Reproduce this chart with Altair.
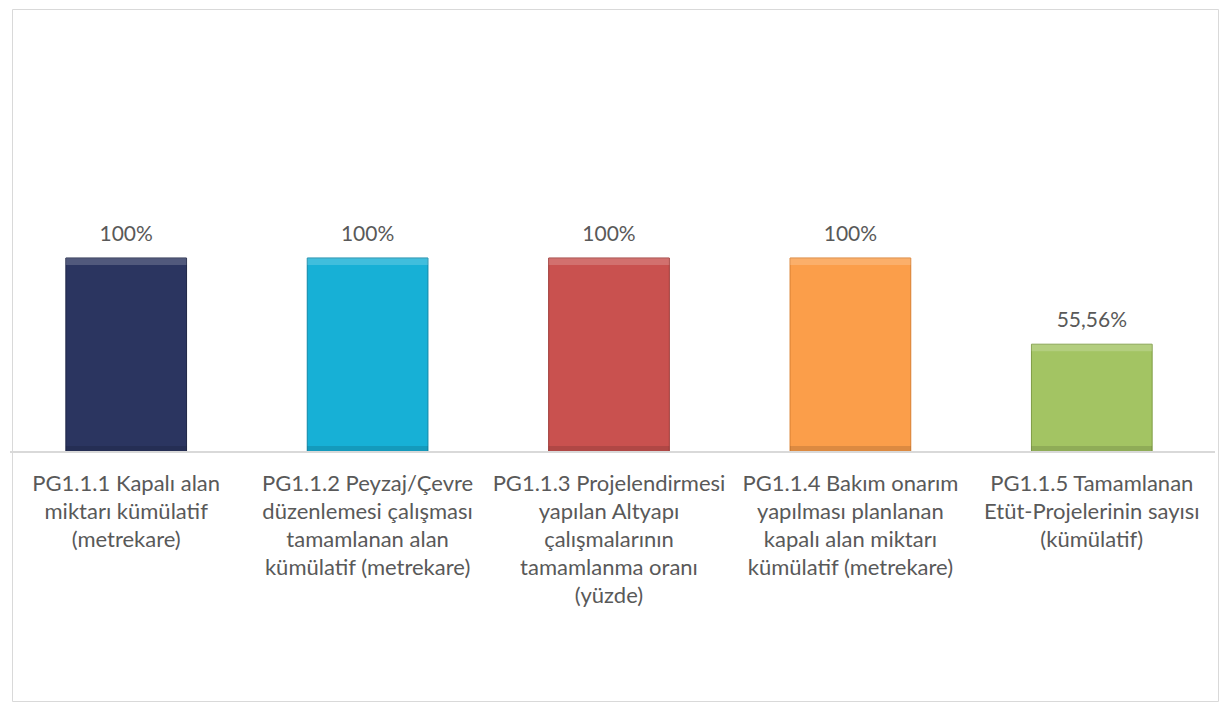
import altair as alt
import pandas as pd

categories = ["PG1.1.1", "PG1.1.2", "PG1.1.3", "PG1.1.4", "PG1.1.5"]
values = [1.0, 1.0, 1.0, 1.0, 0.5556]
value_labels = ["100%", "100%", "100%", "100%", "55,56%"]
bar_colors = ["#2B3560", "#17B0D6", "#C9514F", "#FB9E4A", "#A3C463"]
bar_edges = ["#1E2646", "#0F86A6", "#9E3B39", "#D97E2E", "#7F9C45"]
label_lines = [
    ["PG1.1.1 Kapalı alan", "miktarı kümülatif", "(metrekare)"],
    ["PG1.1.2 Peyzaj/Çevre", "düzenlemesi çalışması", "tamamlanan alan", "kümülatif (metrekare)"],
    ["PG1.1.3 Projelendirmesi", "yapılan Altyapı", "çalışmalarının", "tamamlanma oranı", "(yüzde)"],
    ["PG1.1.4 Bakım onarım", "yapılması planlanan", "kapalı alan miktarı", "kümülatif (metrekare)"],
    ["PG1.1.5 Tamamlanan", "Etüt-Projelerinin sayısı", "(kümülatif)"],
]

df = pd.DataFrame({
    "cat": categories,
    "value": values,
    "vlabel": value_labels,
    "color": bar_colors,
    "edge": bar_edges,
    "label": ["\n".join(l) for l in label_lines],
})

FONT = "Lato"
TEXT = "#595959"
PX = 1.0 / 194  # one pixel in data units

x = alt.X("cat:N", sort=categories, axis=None,
          scale=alt.Scale(range=[-6.5, 1200.5], paddingInner=0.5, paddingOuter=0.25))
yscale = alt.Scale(domain=[0, 1], range=[443, 249])

base = alt.Chart(df)

bars = base.mark_bar(strokeWidth=1).encode(
    x=x,
    y=alt.Y("value:Q", scale=yscale, axis=None),
    color=alt.Color("color:N", scale=None),
    stroke=alt.Stroke("edge:N", scale=None),
)

# bevel highlights: lighter top edge, darker bottom edge
bevel_top = base.transform_calculate(
    t2=f"datum.value - {7 * PX}"
).mark_bar(color="white", opacity=0.18).encode(
    x=x,
    y=alt.Y("value:Q", scale=yscale, axis=None),
    y2="t2:Q",
)
bevel_bottom = base.transform_calculate(
    b1="0", b2=f"{6 * PX}"
).mark_bar(color="black", opacity=0.12).encode(
    x=x,
    y=alt.Y("b1:Q", scale=yscale, axis=None),
    y2="b2:Q",
)

axis_line = alt.Chart(pd.DataFrame({"v": [0]})).mark_rule(color="#D9D9D9", strokeWidth=2).encode(
    y=alt.Y("v:Q", scale=yscale, axis=None),
    x=alt.value(-2),
    x2=alt.value(1203),
)

value_text = base.mark_text(baseline="bottom", dy=-13, fontSize=21, font=FONT, color=TEXT).encode(
    x=x,
    y=alt.Y("value:Q", scale=yscale, axis=None),
    text="vlabel:N",
)

cat_text = base.transform_calculate(z="0").mark_text(
    baseline="top", dy=22, fontSize=22, font=FONT, color=TEXT,
    lineBreak="\n", lineHeight=28).encode(
    x=x,
    y=alt.Y("z:Q", scale=yscale, axis=None),
    text="label:N",
)

chart = alt.layer(bars, bevel_top, bevel_bottom, axis_line, value_text, cat_text).properties(
    width=1206, height=692, padding=1
).configure_view(stroke="#D9D9D9", strokeWidth=1)

chart.save("out.html", embed_options={"renderer": "svg", "actions": False})
